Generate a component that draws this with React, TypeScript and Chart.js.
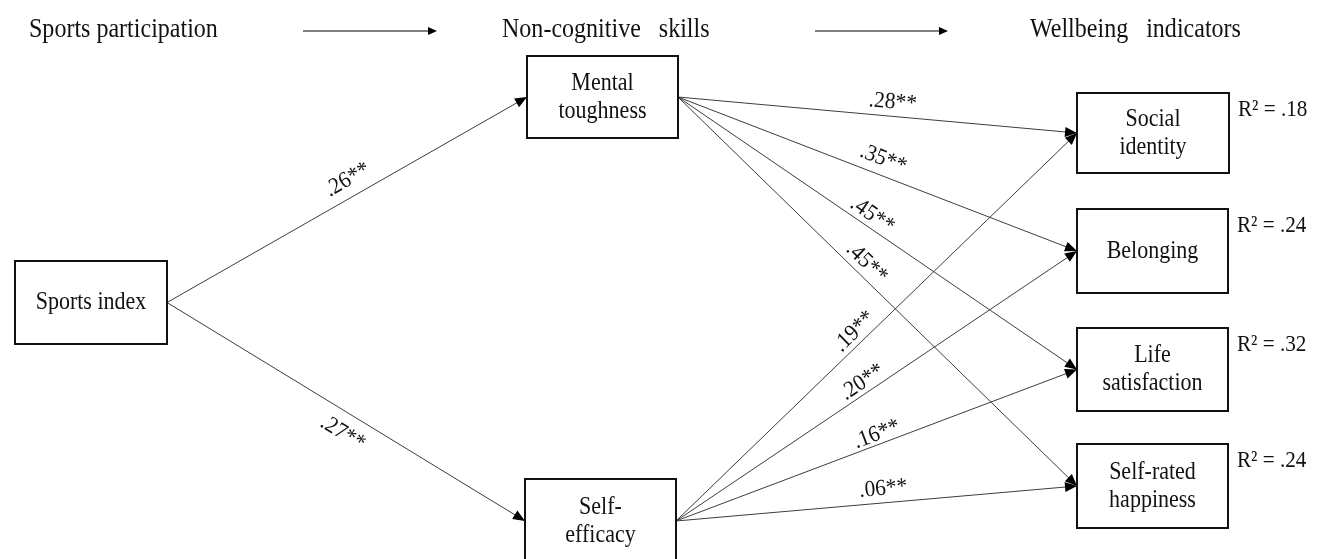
import { useEffect, useRef } from 'react';
import { Chart, registerables } from 'chart.js';

Chart.register(...registerables);

const FONT = '"Liberation Serif", "Times New Roman", Times, serif';

// Stage headings
const stageTitles = ['Sports participation', 'Non-cognitive skills', 'Wellbeing indicators'];
const stageX = [29, 502, 1030];
const stageWordGap = [0, 12, 12];
const stageArrowX0 = [303, 815];
const stageArrowX1 = [437, 948];

// Nodes (boxes) of the path model
const nodeLabels = [
  ['Sports index'],
  ['Mental', 'toughness'],
  ['Self-', 'efficacy'],
  ['Social', 'identity'],
  ['Belonging'],
  ['Life', 'satisfaction'],
  ['Self-rated', 'happiness'],
];
const nodeX0 = [15, 527, 525, 1077, 1077, 1077, 1077];
const nodeX1 = [167, 678, 676, 1229, 1228, 1228, 1228];
const nodeY0 = [261, 56, 479, 93, 209, 328, 444];
const nodeY1 = [344, 138, 563, 173, 293, 411, 528];

// Explained variance of outcome nodes
const r2Nodes = [3, 4, 5, 6];
const r2Values = ['.18', '.24', '.32', '.24'];

// Paths
const pathFrom = [0, 0, 1, 1, 1, 1, 2, 2, 2, 2];
const pathTo = [1, 2, 3, 4, 5, 6, 3, 4, 5, 6];
const pathCoef = ['.26**', '.27**', '.28**', '.35**', '.45**', '.45**', '.19**', '.20**', '.16**', '.06**'];
const labelT = [0.525, 0.52, 0.535, 0.5, 0.47, 0.45, 0.466, 0.48, 0.51, 0.52];
const labelOffset = [17, -20, 14, 16, 12, 13, 12, 11, 10, 14];

const midY = (i: number) => (nodeY0[i] + nodeY1[i]) / 2;
const SQUASH = 0.88;

function drawArrowHead(ctx: CanvasRenderingContext2D, sx: number, sy: number, tx: number, ty: number, len = 12, hw = 5) {
  const a = Math.atan2(ty - sy, tx - sx);
  ctx.save();
  ctx.translate(tx, ty);
  ctx.rotate(a);
  ctx.beginPath();
  ctx.moveTo(0, 0);
  ctx.lineTo(-len, -hw);
  ctx.lineTo(-len, hw);
  ctx.closePath();
  ctx.fillStyle = '#000';
  ctx.fill();
  ctx.restore();
}

function squashText(ctx: CanvasRenderingContext2D, text: string, x: number, y: number, sx: number) {
  ctx.save();
  ctx.translate(x, y);
  ctx.scale(sx, 1);
  ctx.fillText(text, 0, 0);
  ctx.restore();
}

const diagramPlugin = {
  id: 'pathDiagram',
  afterDatasetsDraw(chart: any) {
    const { ctx, scales } = chart;
    const X = (v: number) => scales.x.getPixelForValue(v);
    const Y = (v: number) => scales.y.getPixelForValue(v);
    ctx.save();

    // headings
    ctx.fillStyle = '#111';
    ctx.font = `27px ${FONT}`;
    ctx.textBaseline = 'alphabetic';
    ctx.textAlign = 'left';
    const hs = 0.89;
    stageTitles.forEach((t, i) => {
      const words = t.split(' ');
      let x = X(stageX[i]);
      const space = ctx.measureText(' ').width * hs + stageWordGap[i];
      words.forEach((w) => {
        squashText(ctx, w, x, Y(37), hs);
        x += ctx.measureText(w).width * hs + space;
      });
    });
    ctx.strokeStyle = '#000';
    ctx.lineWidth = 1.2;
    stageArrowX0.forEach((x0, i) => {
      ctx.beginPath();
      ctx.moveTo(X(x0), Y(31));
      ctx.lineTo(X(stageArrowX1[i]) - 6, Y(31));
      ctx.stroke();
      drawArrowHead(ctx, X(x0), Y(31), X(stageArrowX1[i]), Y(31), 9, 4);
    });

    // arrow heads
    pathFrom.forEach((f, i) => {
      const t = pathTo[i];
      drawArrowHead(ctx, X(nodeX1[f]), Y(midY(f)), X(nodeX0[t]), Y(midY(t)));
    });

    // boxes
    nodeLabels.forEach((lines, i) => {
      const x0 = X(nodeX0[i]);
      const x1 = X(nodeX1[i]);
      const y0 = Y(nodeY0[i]);
      const y1 = Y(nodeY1[i]);
      ctx.fillStyle = '#fff';
      ctx.fillRect(x0, y0, x1 - x0, y1 - y0);
      ctx.strokeStyle = '#111';
      ctx.lineWidth = 2;
      ctx.strokeRect(x0, y0, x1 - x0, y1 - y0);
      ctx.fillStyle = '#111';
      ctx.font = `25px ${FONT}`;
      ctx.textAlign = 'center';
      ctx.textBaseline = 'middle';
      const lh = 28;
      const cx = (x0 + x1) / 2;
      const cy = (y0 + y1) / 2;
      lines.forEach((ln, k) => {
        squashText(ctx, ln, cx, cy + (k - (lines.length - 1) / 2) * lh, SQUASH);
      });
    });

    // R² labels
    ctx.font = `23px ${FONT}`;
    ctx.textAlign = 'left';
    ctx.textBaseline = 'middle';
    ctx.fillStyle = '#111';
    r2Nodes.forEach((n, i) => {
      squashText(ctx, `R\u00B2 = ${r2Values[i]}`, X(nodeX1[n]) + 9, Y(nodeY0[n]) + 17, 0.92);
    });

    // path coefficients
    ctx.font = `23px ${FONT}`;
    ctx.textAlign = 'center';
    ctx.textBaseline = 'middle';
    pathFrom.forEach((f, i) => {
      const t = pathTo[i];
      const sx = X(nodeX1[f]);
      const sy = Y(midY(f));
      const tx = X(nodeX0[t]);
      const ty = Y(midY(t));
      const dx = tx - sx;
      const dy = ty - sy;
      const len = Math.hypot(dx, dy);
      const nx = dy / len;
      const ny = -dx / len;
      const px = sx + dx * labelT[i] + nx * labelOffset[i];
      const py = sy + dy * labelT[i] + ny * labelOffset[i];
      ctx.save();
      ctx.translate(px, py);
      ctx.rotate(Math.atan2(dy, dx));
      ctx.scale(0.93, 1);
      ctx.fillText(pathCoef[i], 0, 0);
      ctx.restore();
    });

    ctx.restore();
  },
};

export default function App() {
  const ref = useRef<HTMLCanvasElement | null>(null);
  useEffect(() => {
    document.body.style.margin = '0';
    if (!ref.current) return;
    const datasets = pathFrom.map((f, i) => {
      const t = pathTo[i];
      return {
        label: pathCoef[i],
        data: [
          { x: nodeX1[f], y: midY(f) },
          { x: nodeX0[t], y: midY(t) },
        ],
        showLine: true,
        borderColor: '#3c3c3c',
        borderWidth: 1,
        pointRadius: 0,
        fill: false,
      };
    });
    const chart = new Chart(ref.current, {
      type: 'scatter',
      data: { datasets },
      options: {
        animation: false,
        responsive: false,
        maintainAspectRatio: false,
        events: [],
        layout: { padding: 0 },
        plugins: { legend: { display: false }, tooltip: { enabled: false } },
        scales: {
          x: { type: 'linear', min: 0, max: 1327, display: false },
          y: { type: 'linear', min: 0, max: 559, reverse: true, display: false },
        },
      },
      plugins: [diagramPlugin],
    });
    return () => chart.destroy();
  }, []);
  return (
    <div style={{ width: 1327, height: 559, background: '#fff' }}>
      <canvas ref={ref} width={1327} height={559} style={{ display: 'block', width: 1327, height: 559 }} />
    </div>
  );
}
